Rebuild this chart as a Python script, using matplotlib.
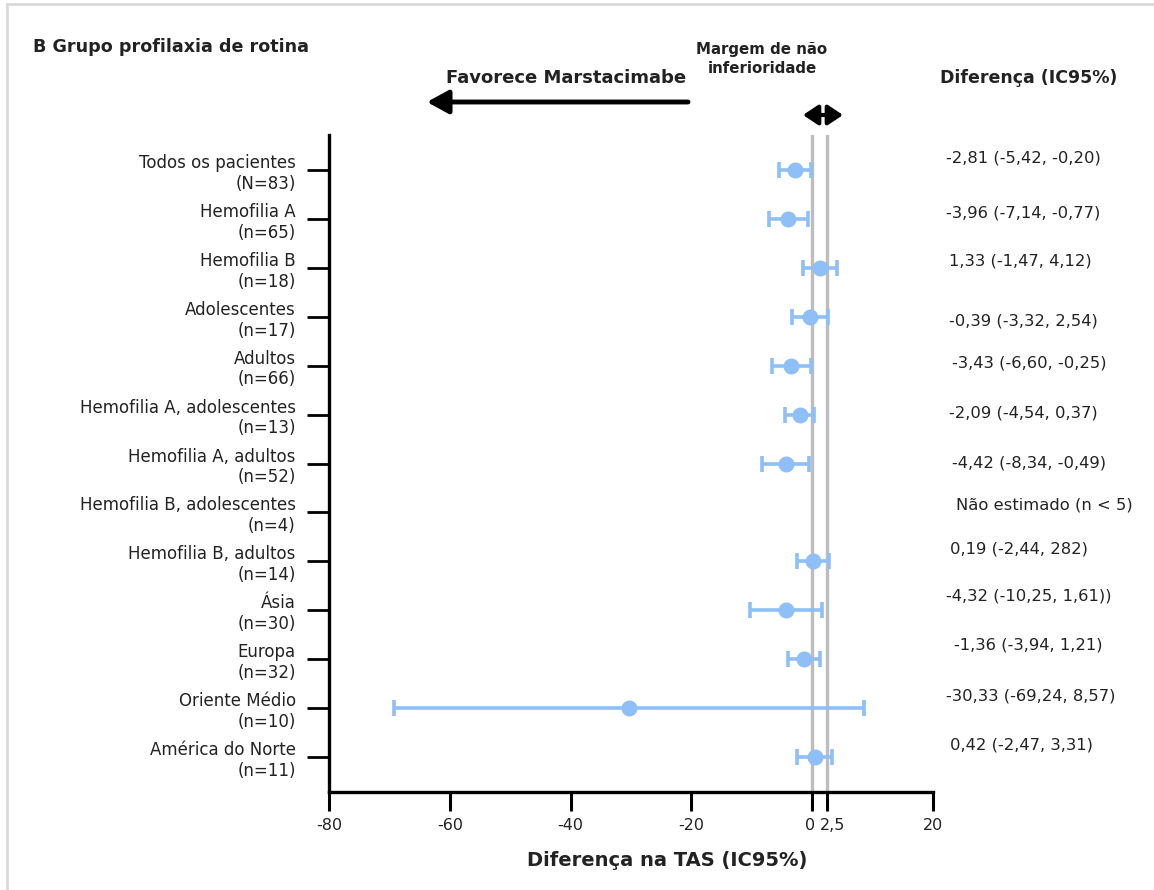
import numpy as np
import matplotlib
matplotlib.use("Agg")
import matplotlib.pyplot as plt
from matplotlib.patches import FancyArrowPatch
from matplotlib.lines import Line2D
from matplotlib.transforms import blended_transform_factory, ScaledTranslation

plt.rcParams['font.family'] = ['DejaVu Sans']

# ---- data ----
categories = ["Todos os pacientes", "Hemofilia A", "Hemofilia B", "Adolescentes",
              "Adultos", "Hemofilia A, adolescentes", "Hemofilia A, adultos",
              "Hemofilia B, adolescentes", "Hemofilia B, adultos", "Ásia", "Europa",
              "Oriente Médio", "América do Norte"]
n_labels = ["(N=83)", "(n=65)", "(n=18)", "(n=17)", "(n=66)", "(n=13)", "(n=52)",
            "(n=4)", "(n=14)", "(n=30)", "(n=32)", "(n=10)", "(n=11)"]
estimate = [-2.81, -3.96, 1.33, -0.39, -3.43, -2.09, -4.42, np.nan, 0.19, -4.32, -1.36, -30.33, 0.42]
ci_low = [-5.42, -7.14, -1.47, -3.32, -6.60, -4.54, -8.34, np.nan, -2.44, -10.25, -3.94, -69.24, -2.47]
ci_high = [-0.20, -0.77, 4.12, 2.54, -0.25, 0.37, -0.49, np.nan, 2.82, 1.61, 1.21, 8.57, 3.31]
diff_text = ["-2,81 (-5,42, -0,20)", "-3,96 (-7,14, -0,77)", "1,33 (-1,47, 4,12)",
             "-0,39 (-3,32, 2,54)", "-3,43 (-6,60, -0,25)", "-2,09 (-4,54, 0,37)",
             "-4,42 (-8,34, -0,49)", "Não estimado (n < 5)", "0,19 (-2,44, 282)",
             "-4,32 (-10,25, 1,61))", "-1,36 (-3,94, 1,21)", "-30,33 (-69,24, 8,57)",
             "0,42 (-2,47, 3,31)"]
x_ticks = [-80, -60, -40, -20, 0, 2.5, 20]
x_ticklabels = ["-80", "-60", "-40", "-20", "0", "2,5", "20"]
margin_lines = [0, 2.5]

# layout: pixel offsets of the right-hand text relative to each row
text_dy_px = [-12, -6, -7, 4, -3, -2, 0, -7, -12, -14, -14, -12, -12]
text_dx_px = [0, 0, 3, 3, 6, 3, 6, 10, 4, 0, 8, 0, 4]

W, H = 1154, 890
fig = plt.figure(figsize=(W / 100, H / 100), dpi=100)
ax = fig.add_axes([329 / W, 1 - 792 / H, (933 - 329) / W, (792 - 135) / H])

est = np.array(estimate)
lo = np.array(ci_low)
hi = np.array(ci_high)
ypos = np.arange(len(categories))
mask = ~np.isnan(est)

blue = '#8fbff7'
for xv in margin_lines:
    ax.axvline(xv, color='#bdbdbd', lw=2.4, zorder=1)

ax.errorbar(est[mask], ypos[mask], xerr=[est[mask] - lo[mask], hi[mask] - est[mask]],
            fmt='o', color=blue, ecolor=blue, markersize=10.5, elinewidth=2.6,
            capsize=5.5, capthick=2.6, zorder=3)

ax.set_xlim(-80, 20)
ax.set_ylim(len(categories) - 1 + 0.716, -0.716)
ax.set_xticks(x_ticks)
ax.set_xticklabels(x_ticklabels, fontsize=11.5, color='#222222')
ax.set_yticks(ypos)
ax.set_yticklabels([f"{c}\n{n}" for c, n in zip(categories, n_labels)],
                   fontsize=12, linespacing=1.2, color='#222222')
ax.tick_params(axis='x', length=14, width=2.2, direction='out', pad=5)
ax.tick_params(axis='y', length=16, width=2.0, direction='out', pad=8)
for s in ['top', 'right']:
    ax.spines[s].set_visible(False)
for s in ['left', 'bottom']:
    ax.spines[s].set_linewidth(2.4)

# separate the close "0" and "2,5" labels slightly
xt = ax.get_xticklabels()
xt[4].set_transform(xt[4].get_transform() + ScaledTranslation(-2 / 100, 0, fig.dpi_scale_trans))
xt[5].set_transform(xt[5].get_transform() + ScaledTranslation(5 / 100, 0, fig.dpi_scale_trans))

ax.set_xlabel("Diferença na TAS (IC95%)", fontsize=14, fontweight='bold',
              color='#222222')
ax.xaxis.set_label_coords((667 - 329) / (933 - 329), -(851 - 792) / (792 - 135))
ax.xaxis.label.set_va('top')

# right column text
tr = blended_transform_factory(fig.transFigure, ax.transData)
for i, t in enumerate(diff_text):
    off = ScaledTranslation(text_dx_px[i] / 100, -text_dy_px[i] / 100, fig.dpi_scale_trans)
    ax.text(946 / W, i, t, transform=tr + off, ha='left', va='center', fontsize=11.8,
            color='#222222', clip_on=False)

# headers
fig.text(33 / W, 1 - 47 / H, "B Grupo profilaxia de rotina", fontsize=12.6,
         fontweight='bold', ha='left', va='center', color='#222222')
fig.text(686 / W, 1 - 78 / H, "Favorece Marstacimabe", fontsize=13,
         fontweight='bold', ha='right', va='center', color='#222222')
fig.text(762 / W, 1 - 59 / H, "Margem de não\ninferioridade", fontsize=10.8,
         fontweight='bold', ha='center', va='center', linespacing=1.4, color='#222222')
fig.text(1029 / W, 1 - 78 / H, "Diferença (IC95%)", fontsize=12.5,
         fontweight='bold', ha='center', va='center', color='#222222')

# arrows
fig.add_artist(FancyArrowPatch((688 / W, 1 - 102 / H), (427 / W, 1 - 102 / H),
                               transform=fig.transFigure,
                               arrowstyle='-|>,head_length=1.0,head_width=0.55',
                               mutation_scale=13, lw=3.5, color='black',
                               shrinkA=0, shrinkB=0))
fig.add_artist(FancyArrowPatch((803 / W, 1 - 115 / H), (843 / W, 1 - 115 / H),
                               transform=fig.transFigure,
                               arrowstyle='<|-|>,head_length=0.75,head_width=0.5',
                               mutation_scale=12, lw=3, color='black',
                               shrinkA=0, shrinkB=0))

# partial frame (top and left)
fig.add_artist(Line2D([7 / W, 7 / W], [0, 1 - 4 / H], transform=fig.transFigure,
                      color='#d9d9d9', lw=2))
fig.add_artist(Line2D([7 / W, 1], [1 - 4 / H, 1 - 4 / H], transform=fig.transFigure,
                      color='#d9d9d9', lw=2))

fig.savefig("out.png", dpi=100)
